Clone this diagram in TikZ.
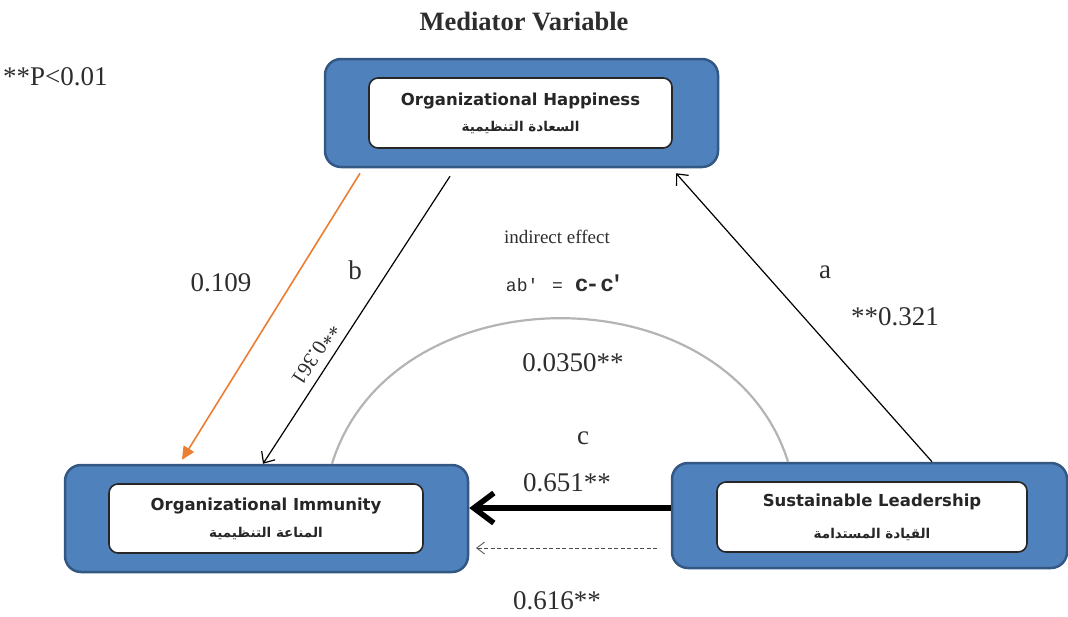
\documentclass[tikz,border=0pt]{standalone}
\usepackage{fontspec}
\setmainfont{Liberation Serif}
\newfontfamily\boxfont{DejaVu Sans}
\newfontfamily\arabicfont[Script=Arabic]{DejaVu Sans}
\newfontfamily\codefont{Liberation Mono}
\TeXXeTstate=1
\usetikzlibrary{arrows.meta,calc}

\definecolor{boxblue}{RGB}{79,129,189}
\definecolor{boxedge}{RGB}{52,88,132}
\definecolor{arcgray}{RGB}{180,180,180}
\definecolor{orangearrow}{RGB}{237,125,49}
\definecolor{labelgray}{RGB}{45,45,45}

\newcommand\arabline[1]{{\arabicfont\bfseries\fontsize{13.5}{13.5}\selectfont\beginR #1\endR}}

\tikzset{
  outerbox/.style={draw=boxedge, line width=2.5pt, fill=boxblue, rounded corners=16pt, inner sep=0pt},
  innerbox/.style={draw=black!85, line width=1.6pt, fill=white, rounded corners=9pt, inner sep=0pt,
    align=center, text=black!85, font=\boxfont\bfseries\fontsize{16.5}{18}\selectfont},
  num/.style={font=\fontsize{27}{27}\selectfont, text=labelgray, inner sep=0pt},
  path/.style={line width=1.2pt, -{Straight Barb[length=9pt,width=16pt]}},
}

\begin{document}
\begin{tikzpicture}[x=1pt,y=-1pt]
\useasboundingbox (0,0) rectangle (1068,616);

% variable boxes
\node[outerbox, minimum width=393pt, minimum height=108pt] (mo) at (521.5,113) {};
\node[innerbox, minimum width=303pt, minimum height=70pt] (mi) at (520.5,113)
  {Organizational Happiness\\[8pt]\arabline{السعادة التنظيمية}};

\node[outerbox, minimum width=403pt, minimum height=107pt] (lo) at (266.5,518.5) {};
\node[innerbox, minimum width=314pt, minimum height=69pt] (li) at (266,518.5)
  {Organizational Immunity\\[9pt]\arabline{المناعة التنظيمية}};

\node[outerbox, minimum width=395pt, minimum height=105pt] (so) at (869.5,515.5) {};
\node[innerbox, minimum width=310pt, minimum height=70pt] (si) at (872,517)
  {Sustainable Leadership\\[14pt]\arabline{القيادة المستدامة}};

% mediation paths
\draw[orangearrow, line width=1.6pt, -{Triangle[length=13pt,width=12pt]}]
  ($(mo.south -| 360,0)+(0,5)$) -- ($(lo.north -| 182,0)+(0,-4)$);
\draw[path] ($(mo.south -| 450,0)+(0,8)$) -- (lo.north -| 263,0);
\draw[path] (so.north -| 932,0) -- ($(mo.south -| 676,0)+(0,5)$);

% indirect effect arc
\draw[arcgray, line width=2.2pt]
  (lo.north -| 332,0) .. controls (392,270) and (728,270) .. (so.north -| 788,0);

% total and direct effects
\draw[line width=5.5pt, -{Straight Barb[length=20pt,width=30pt]}]
  (so.west |- 0,508) -- (lo.east |- 0,508);
\coordinate (dS) at (657,548);
\coordinate (dE) at (476,548);
\draw[black!70, line width=0.8pt, dash pattern=on 4pt off 2.5pt,
  -{Straight Barb[length=8pt,width=12pt]}] (dS) -- (dE);

% labels
\node[font=\bfseries\fontsize{26.5}{26.5}\selectfont, text=labelgray] (title) at (524,22) {Mediator Variable};
\node[num, anchor=west] (sig) at (3,77) {**P<0.01};
\node[num] (l109) at (221,283) {0.109};
\node[num] (lb) at (355,270) {b};
\node[num, font=\fontsize{21}{21}\selectfont, rotate=237] (l361) at (315,354) {**0.361};
\node[num] (la) at (825,272) {a};
\node[num] (l321) at (895,317) {**0.321};
\node[font=\fontsize{19}{19}\selectfont, text=labelgray] (ind) at (557,237) {indirect effect};
\node[text=labelgray, inner sep=0pt] (eq) at (565,283)
  {{\codefont\fontsize{18}{18}\selectfont ab'\hspace{3pt} = \hspace{1pt}}{\codefont\bfseries\fontsize{23}{23}\selectfont c\kern-3pt-\kern1pt c\kern-4pt'}};
\node[num] (l035) at (573,363) {0.0350**};
\node[num] (lc) at (583,438) {c};
\node[num] (l651) at (567,483) {0.651**};
\node[num] (l616) at (557,601) {0.616**};
\end{tikzpicture}
\end{document}
